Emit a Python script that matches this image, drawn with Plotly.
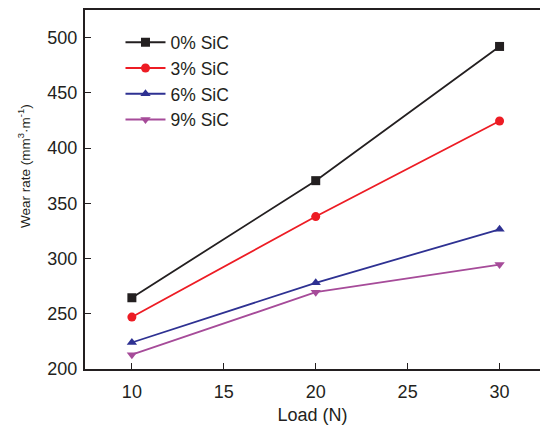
import plotly.graph_objects as go

load = [10, 20, 30]
names = ["0% SiC", "3% SiC", "6% SiC", "9% SiC"]
sic0 = [264.5, 370.5, 492]
sic3 = [247, 338, 424.5]
sic6 = [224, 278, 326.5]
sic9 = [213, 269.5, 294.5]
series = [sic0, sic3, sic6, sic9]
colors = ["#231f20", "#ed1c24", "#2e3192", "#a64b99"]
symbols = ["square", "circle", "triangle-up", "triangle-down"]
msizes = [9, 9, 9, 9]

fig = go.Figure()
for n, s, c, sym, ms in zip(names, series, colors, symbols, msizes):
    fig.add_trace(go.Scatter(x=load, y=s, name=n, mode="lines+markers",
                             line=dict(color=c, width=1.8),
                             marker=dict(symbol=sym, size=ms, color=c)))

font_fam = "Liberation Sans, Arial, sans-serif"
L, T, B, W, H = 85, 10, 56, 540, 425
pw = W - L
ph = H - T - B
fig.update_layout(
    width=W, height=H,
    margin=dict(l=L, r=0, t=T, b=B),
    paper_bgcolor="white", plot_bgcolor="white",
    font=dict(family=font_fam, color="#231f20"),
    showlegend=True,
    legend=dict(x=0.078, y=0.96, xanchor="left", yanchor="top",
                bgcolor="rgba(0,0,0,0)", font=dict(size=17.5, family=font_fam, color="#231f20"),
                itemwidth=40),
    xaxis=dict(range=[7.45, 32.2], tickvals=[10, 15, 20, 25, 30],
               ticks="inside", ticklen=6, tickwidth=1.2, tickcolor="#231f20",
               showline=True, linecolor="#231f20", linewidth=2, mirror=True,
               showgrid=False, zeroline=False, ticklabelstandoff=5,
               tickfont=dict(size=18, color="#231f20"),
               title=dict(text="Load (N)", font=dict(size=18), standoff=8)),
    yaxis=dict(range=[200, 525], tickvals=[200, 250, 300, 350, 400, 450, 500],
               ticks="inside", ticklen=6, tickwidth=1.2, tickcolor="#231f20",
               showline=True, linecolor="#231f20", linewidth=2,
               showgrid=False, zeroline=False, ticklabelstandoff=2,
               tickfont=dict(size=18, color="#231f20")),
    annotations=[dict(text="Wear rate (mm<sup>3</sup>·m<sup>-1</sup>)",
                      xref="paper", yref="paper",
                      x=(24 - L) / pw, y=(H - B - 166) / ph,
                      xanchor="center", yanchor="middle", textangle=-90,
                      showarrow=False, font=dict(size=13.5, color="#231f20"))],
)
fig.write_html("out.html", config={"displayModeBar": False},
               post_script="document.body.style.margin='0';")
